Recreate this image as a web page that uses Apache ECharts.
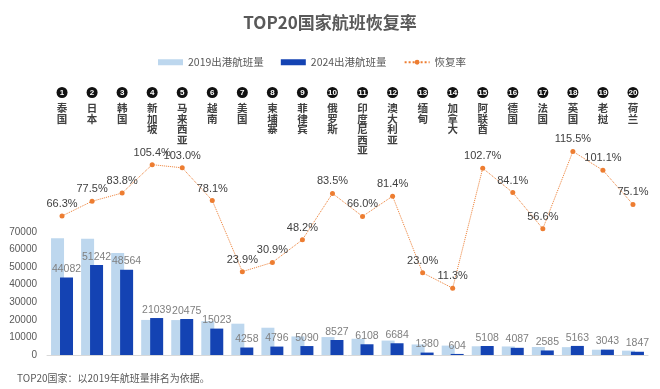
<!DOCTYPE html>
<html><head><meta charset="utf-8">
<script src="https://cdn.jsdelivr.net/npm/echarts@6/dist/echarts.min.js"></script>
<style>html,body{margin:0;padding:0;background:#fff}#c{width:660px;height:389px}</style>
</head><body><div id="c"></div>
<script>
const categories = ['泰国','日本','韩国','新加坡','马来西亚','越南','美国','柬埔寨','菲律宾','俄罗斯','印度尼西亚','澳大利亚','缅甸','加拿大','阿联酋','德国','法国','英国','老挝','荷兰'];
const ranks = [1,2,3,4,5,6,7,8,9,10,11,12,13,14,15,16,17,18,19,20];
const flights2019 = [66500,66100,58000,19960,19880,19240,17820,15520,10560,10210,9250,8210,6000,5350,4970,4860,4570,4470,3010,2460];
const flights2024 = [44082,51242,48564,21039,20475,15023,4258,4796,5090,8527,6108,6684,1380,604,5108,4087,2585,5163,3043,1847];
const recoveryRate = [66.3,77.5,83.8,105.4,103.0,78.1,23.9,30.9,48.2,83.5,66.0,81.4,23.0,11.3,102.7,84.1,56.6,115.5,101.1,75.1];
const barAxisMin = 0, barAxisMax = 70000, barAxisStep = 10000;

const FONT = '"Liberation Sans", "Noto Sans CJK SC", sans-serif';
const CJK = '"Noto Sans CJK SC", sans-serif';
const chart = echarts.init(document.getElementById('c'), null, {renderer: 'canvas'});
const L = 47, R = 12;
chart.setOption({
  animation: false,
  backgroundColor: '#fff',
  textStyle: {fontFamily: FONT},
  title: [
    {text: 'TOP20国家航班恢复率', left: 'center', top: 9,
     textStyle: {fontFamily: CJK, fontSize: 17, fontWeight: 'bold', color: '#595959'}},
    {text: 'TOP20国家：以2019年航班量排名为依据。', left: 12, top: 368,
     textStyle: {fontFamily: CJK, fontSize: 10, fontWeight: 'normal', color: '#595959'}}
  ],
  legend: {
    left: 153, top: 52, itemWidth: 25, itemHeight: 6, itemGap: 17,
    textStyle: {fontFamily: CJK, fontSize: 10.5, color: '#595959'},
    data: [{name: '2019出港航班量', icon: 'rect'}, {name: '2024出港航班量', icon: 'rect'}, {name: '恢复率'}]
  },
  grid: [
    {left: L, right: R, top: 232, bottom: 34, containLabel: false},
    {left: L, right: R, top: 145.5, bottom: 86, containLabel: false},
    {left: L, right: R, top: 30, bottom: 306, containLabel: false}
  ],
  xAxis: [
    {type: 'category', gridIndex: 0, data: categories, axisTick: {show: false},
     axisLabel: {show: false}, axisLine: {lineStyle: {color: '#D9D9D9'}}},
    {type: 'category', gridIndex: 1, data: categories, show: false},
    {type: 'category', gridIndex: 2, data: categories, position: 'bottom',
     axisLine: {show: false}, axisTick: {show: false},
     axisLabel: {interval: 0, margin: 4,
       formatter: (v, i) => '{n|' + ranks[i] + '}\n{s| }\n' + v.split('').map(ch => '{c|' + ch + '}').join('\n'),
       rich: {
         n: {width: 11, height: 11, lineHeight: 11, borderRadius: 5.5, backgroundColor: '#111',
             color: '#fff', fontSize: 8, fontWeight: 'bold', align: 'center', fontFamily: FONT},
         s: {lineHeight: 5, fontSize: 1},
         c: {fontSize: 10.5, lineHeight: 10.5, fontWeight: 'bold', color: '#404040', fontFamily: CJK, align: 'center'}
       }}}
  ],
  yAxis: [
    {type: 'value', gridIndex: 0, min: barAxisMin, max: barAxisMax, interval: barAxisStep,
     splitLine: {show: false}, axisLine: {show: false}, axisTick: {show: false},
     axisLabel: {fontSize: 10, color: '#595959', margin: 10, formatter: v => String(v)}},
    {type: 'value', gridIndex: 1, min: 0, max: 120, show: false, splitLine: {show: false}},
    {type: 'value', gridIndex: 2, show: false, splitLine: {show: false}}
  ],
  series: [
    {name: '2019出港航班量', type: 'bar', xAxisIndex: 0, yAxisIndex: 0, data: flights2019,
     barWidth: 13, barGap: '-31%', itemStyle: {color: '#BDD7EE'}},
    {name: '2024出港航班量', type: 'bar', xAxisIndex: 0, yAxisIndex: 0, data: flights2024,
     barWidth: 13, itemStyle: {color: '#1443B3'},
     label: {show: true, position: 'top', distance: 3, fontSize: 10.5, color: '#7F7F7F'}},
    {name: '恢复率', type: 'line', xAxisIndex: 1, yAxisIndex: 1, data: recoveryRate,
     symbol: 'circle', symbolSize: 5, z: 5,
     lineStyle: {color: '#ED7D31', width: 1, type: 'dotted'},
     itemStyle: {color: '#ED7D31'},
     label: {show: true, position: 'top', distance: 4, fontSize: 11, color: '#404040',
             formatter: p => p.value.toFixed(1) + '%'}},
    {type: 'bar', xAxisIndex: 2, yAxisIndex: 2, data: [], silent: true}
  ]
});
</script></body></html>
